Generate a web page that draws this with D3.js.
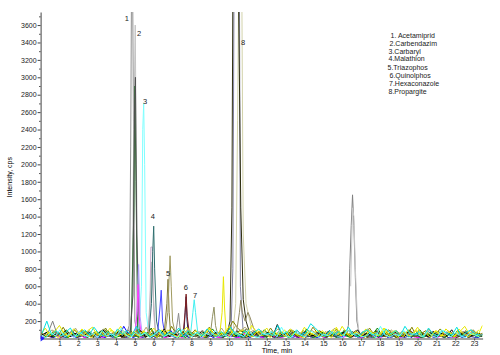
<!DOCTYPE html>
<html>
<head>
<meta charset="utf-8">
<script src="https://cdn.jsdelivr.net/npm/d3@7"></script>
<style>
  body { margin: 0; background: #fff; }
  text { font-family: "Liberation Sans", Arial, sans-serif; }
</style>
</head>
<body>
<svg id="chart" width="500" height="355"></svg>
<script>
// compound names shown in the legend box
const compounds = ["1. Acetamiprid", "2.Carbendazim", "3.Carbaryl", "4.Malathion",
    "5.Triazophos", "6.Quinolphos", "7.Hexaconazole", "8.Propargite"];

// peak numbers written next to peaks (time, cps)
const peakLabels = ["1", "2", "3", "4", "5", "6", "7", "8"];
const peakLabelTime = [4.58, 5.22, 5.54, 5.96, 6.76, 7.71, 8.19, 10.74];
const peakLabelCps = [3650, 3470, 2690, 1370, 720, 560, 465, 3370];

const xTicks = d3.range(1, 24);
const yTicks = d3.range(200, 3601, 200);

// peak traces
const peakColors = [
    "#909090", "#c4c4c4", "#2e7d32", "#505050", "#80ffff", "#b0a0ff", "#ff40ff",
    "#c8a8c8", "#b8b8b8", "#307070", "#4848ff", "#807838", "#a09a60", "#8c8c8c",
    "#202060", "#802020", "#40f0f0", "#909060", "#e8e800",
    "#8080a0", "#d2d2aa", "#303010", "#908860",
    "#808080", "#c8c8c8"
];
const peakTimes = [
    [4.55, 4.7, 4.78, 4.85, 4.93, 5.0, 5.15],
    [4.7, 4.85, 4.95, 5.02, 5.08, 5.2],
    [4.8, 4.95, 5.0, 5.06, 5.15],
    [4.75, 4.9, 4.98, 5.03, 5.1, 5.25],
    [5.2, 5.35, 5.42, 5.47, 5.52, 5.6, 5.75],
    [5.0, 5.12, 5.2, 5.28, 5.4],
    [5.0, 5.1, 5.17, 5.25, 5.35],
    [5.65, 5.8, 5.85, 5.93, 6.0, 6.1],
    [5.7, 5.82, 5.9, 5.98, 6.1],
    [5.75, 5.88, 5.95, 6.0, 6.05, 6.15, 6.3],
    [6.2, 6.33, 6.4, 6.47, 6.6],
    [6.55, 6.7, 6.76, 6.82, 6.9],
    [6.6, 6.75, 6.82, 6.87, 6.93, 7.0, 7.15],
    [7.15, 7.25, 7.32, 7.4, 7.5],
    [7.6, 7.68, 7.72, 7.77, 7.85],
    [7.55, 7.67, 7.72, 7.78, 7.9],
    [7.95, 8.08, 8.15, 8.22, 8.35],
    [9.0, 9.12, 9.2, 9.28, 9.4],
    [9.5, 9.63, 9.7, 9.76, 9.85],
    [10.1, 10.2, 10.27, 10.4, 10.55, 10.6, 10.75],
    [10.2, 10.35, 10.45, 10.55, 10.65, 10.75, 10.9, 11.2],
    [9.9, 10.05, 10.15, 10.22, 10.45, 10.62, 10.75, 10.9, 11.1],
    [10.4, 10.55, 10.62, 10.7, 10.85, 11.0, 11.1, 11.3, 11.5],
    [16.2, 16.33, 16.4, 16.48, 16.55, 16.62, 16.7, 16.78, 16.9],
    [16.45, 16.55, 16.62, 16.7, 16.8, 16.9]
];
const peakValues = [
    [40, 150, 2200, 5200, 2400, 200, 40],
    [40, 400, 2500, 3600, 2000, 60],
    [40, 1500, 2900, 1800, 80],
    [50, 500, 2600, 3000, 1200, 50],
    [50, 600, 2400, 2700, 2000, 300, 40],
    [50, 300, 850, 250, 40],
    [40, 250, 620, 200, 40],
    [40, 300, 1050, 1050, 300, 50],
    [50, 500, 880, 500, 50],
    [60, 400, 1000, 1290, 800, 200, 50],
    [40, 350, 555, 200, 40],
    [40, 400, 680, 300, 40],
    [50, 300, 700, 950, 600, 200, 50],
    [40, 180, 290, 120, 40],
    [40, 350, 480, 200, 40],
    [40, 300, 510, 250, 40],
    [40, 300, 445, 300, 40],
    [40, 250, 360, 150, 40],
    [40, 300, 710, 350, 40],
    [60, 800, 4500, 5500, 4000, 600, 60],
    [60, 400, 2500, 5000, 5000, 1200, 400, 100],
    [60, 200, 1500, 5000, 5000, 1500, 450, 200, 60],
    [80, 300, 440, 300, 200, 300, 250, 120, 60],
    [50, 150, 800, 1300, 1650, 1300, 700, 200, 60],
    [600, 1500, 1400, 800, 250, 50]
];

// baseline noise traces, one value every 0.25 min from each start time
const noiseStep = 0.25;
const noiseColors = ["#0000ff", "#4040c0", "#ff00ff", "#008080", "#00b000", "#008000",
    "#808000", "#606000", "#808080", "#404040", "#000000", "#b0a870",
    "#e6e600", "#f0f000", "#00e0e0", "#60ffff"];
const noiseStart = [0.16, 0.11, 0.04, 0.22, 0.21, 0.12, 0.2, 0.07, 0.14, 0.17, 0.06, 0.1,
    0.0, 0.19, 0.08, 0.03];
const noiseValues = [
    [20,50,10,30,60,20,40,10,30,80,20,50,30,10,40,70,20,140,50,10,
     40,20,60,30,10,50,20,90,30,20,40,10,60,20,30,50,10,40,20,70,
     30,10,50,20,40,40,20,30,60,10,40,20,50,30,10,70,20,40,10,30,
     60,20,50,10,40,30,80,20,10,50,30,20,60,10,40,20,30,70,10,50,
     20,40,10,60,30,20,50,10,40,30,20,60,10,30],
    [10,30,10,50,20,10,40,20,60,10,30,20,10,40,30,10,50,20,10,30,
     70,10,20,40,10,30,20,50,10,20,40,10,30,60,20,10,40,20,10,30,
     20,50,10,30,10,40,20,10,60,30,10,20,40,10,30,20,50,10,20,40,
     10,30,20,10,50,20,40,10,30,20,10,60,20,30,10,40,20,10,50,30,
     10,20,40,10,30,50,10,20,40,10,30,20,10,40],
    [10,30,20,50,10,40,30,20,60,10,20,50,30,10,40,20,70,10,30,20,
     50,10,40,20,30,60,10,20,40,30,10,50,20,40,10,30,70,20,10,40,
     30,20,10,60,20,40,30,10,50,20,30,10,40,60,20,10,30,50,20,40,
     10,30,20,70,10,40,20,30,10,50,30,20,10,40,20,60,10,30,40,20,
     10,50,20,30,10,40,60,20,10,30,50,20,40,30],
    [20,40,70,30,50,20,60,30,40,80,20,50,30,60,20,40,90,30,50,20,
     60,40,30,70,20,50,40,30,80,20,60,30,50,20,70,40,30,60,20,50,
     40,70,30,20,60,40,50,20,80,30,40,60,20,50,30,70,20,40,60,30,
     50,20,80,40,30,60,20,50,40,70,30,20,60,40,50,30,80,20,40,60,
     30,50,20,70,40,30,60,20,50,30,40,70,20,50],
    [10,40,20,60,30,10,50,20,70,10,40,30,90,20,50,10,30,60,20,40,
     10,80,30,20,50,10,60,40,20,30,10,70,20,50,10,40,30,60,10,90,
     20,40,10,50,30,20,70,10,40,60,20,30,10,80,40,20,50,10,30,60,
     20,40,10,70,30,10,50,20,60,30,10,40,80,20,30,10,60,40,20,50,
     10,30,70,20,40,10,50,30,20,60,10,40,20,30],
    [30,80,20,60,40,100,30,50,20,90,40,70,20,110,50,30,80,20,60,40,
     90,30,50,120,20,70,40,60,30,100,20,80,50,30,70,20,110,40,60,30,
     80,20,50,90,30,60,20,100,40,70,30,50,20,90,60,30,110,40,20,80,
     50,30,70,20,100,40,60,30,80,20,50,120,30,60,40,90,20,70,30,50,
     100,20,60,40,80,30,50,20,90,40,60,30,70,40],
    [50,20,90,40,130,30,60,20,100,50,30,80,40,120,20,60,90,30,50,20,
     110,40,70,30,90,60,20,140,50,30,80,40,100,20,60,130,40,70,30,90,
     200,120,80,110,60,50,90,30,120,40,70,20,100,50,30,90,40,130,60,20,
     80,30,110,40,60,20,90,50,30,120,40,70,20,100,60,30,80,40,130,20,
     60,90,30,50,110,40,70,20,80,50,30,100,40,60],
    [60,20,40,80,10,50,30,100,20,60,40,10,70,30,90,20,50,10,40,80,
     30,60,10,110,40,20,70,30,50,10,90,40,20,60,30,10,80,50,20,40,
     130,60,90,70,50,30,80,20,60,40,10,70,30,100,20,50,10,60,40,90,
     20,30,70,10,50,40,80,20,60,10,30,90,40,20,70,10,50,30,100,20,
     40,60,10,80,30,50,20,70,10,40,90,30,60,20],
    [30,60,200,40,40,70,30,50,90,20,60,40,80,30,50,20,70,40,100,30,
     60,20,50,80,30,40,70,20,90,50,30,60,20,80,40,50,30,70,20,60,
     90,40,30,110,50,20,70,40,60,30,80,20,50,40,90,30,60,20,70,50,
     30,80,40,20,60,100,30,50,70,20,40,90,30,60,20,80,50,30,70,40,
     20,60,90,30,50,20,80,40,60,30,70,20,50,40],
    [30,50,10,70,20,40,90,10,30,60,20,50,10,80,40,20,60,10,30,70,
     20,50,40,10,90,30,20,60,10,40,70,20,30,10,50,80,20,40,10,60,
     30,90,20,10,50,40,70,20,30,10,60,40,20,80,10,50,30,20,70,40,
     10,60,20,30,90,10,40,50,20,30,70,10,60,20,40,10,80,30,20,50,
     10,40,70,20,30,10,60,40,20,80,10,30,50,20],
    [40,70,20,50,30,90,20,60,40,30,80,20,50,100,30,40,70,20,60,30,
     50,90,20,40,60,30,110,20,50,40,80,30,60,20,90,40,30,70,20,50,
     60,30,50,40,20,80,50,30,70,20,160,40,60,30,50,20,80,40,30,60,
     20,90,50,30,70,40,20,100,30,60,40,80,20,50,30,70,40,20,90,60,
     30,50,20,80,40,60,30,100,20,50,70,30,40,60],
    [60,30,100,50,20,80,40,120,30,60,90,20,50,110,40,70,30,90,60,20,
     80,40,130,30,60,20,100,50,80,30,60,110,40,20,90,50,70,30,120,40,
     60,150,90,130,70,100,40,80,30,60,110,40,20,90,50,70,30,100,60,20,
     80,40,120,30,50,90,20,70,40,110,60,30,80,20,100,50,40,70,30,90,
     60,20,110,40,70,30,90,50,20,80,40,100,60,30],
    [40,120,30,80,150,50,20,110,60,30,90,130,40,70,20,100,60,140,30,50,
     90,20,80,40,120,60,30,100,50,20,70,130,40,90,30,60,110,20,80,50,
     140,30,70,100,40,20,90,60,120,30,50,80,20,110,60,40,130,30,70,90,
     20,50,100,40,140,60,30,80,20,110,50,70,30,120,40,90,60,20,100,50,
     130,30,70,40,90,20,110,60,30,80,140,50,40,100],
    [20,70,40,10,90,30,60,20,110,50,10,80,30,50,120,20,40,70,10,60,
     30,90,20,50,10,100,40,70,20,30,80,10,60,40,20,120,50,30,70,10,
     90,40,60,20,150,80,30,50,10,70,40,100,20,60,30,10,80,50,20,90,
     40,10,130,30,60,20,70,40,10,90,50,30,120,20,60,10,80,40,30,100,
     20,60,10,90,40,30,70,10,110,50,20,60,30,150],
    [60,200,40,90,30,70,120,20,50,100,40,130,60,30,80,20,110,50,90,30,
     140,40,70,20,60,100,30,80,50,120,20,90,40,70,30,110,60,20,80,40,
     130,50,30,90,20,70,110,40,60,30,150,50,80,20,100,40,70,170,120,60,
     20,90,40,80,30,130,50,20,70,100,40,60,20,110,50,90,30,140,60,40,
     80,20,120,50,30,90,60,40,130,20,70,100,50,40],
    [40,10,70,30,100,20,50,10,80,40,20,60,10,90,30,50,20,120,40,10,
     70,30,60,10,40,90,20,50,30,10,110,40,20,70,10,60,30,90,20,40,
     10,80,50,20,100,30,10,60,40,80,20,130,30,10,70,40,20,90,60,10,
     50,30,80,20,10,100,40,60,20,30,70,10,140,40,20,50,30,90,10,60,
     40,20,80,30,10,100,50,20,70,30,10,60,40,20]
];

const svg = d3.select("#chart");
const x = d3.scaleLinear().domain([0, 23.45]).range([40.6, 482.6]);
const y = d3.scaleLinear().domain([0, 3750]).range([338.5, 12]);

svg.append("clipPath").attr("id", "plotClip")
    .append("rect")
    .attr("x", x(0)).attr("y", y(3750))
    .attr("width", x(23.45) - x(0)).attr("height", y(0) - y(3750));

const plot = svg.append("g").attr("clip-path", "url(#plotClip)");
const line = d3.line().x(d => x(d[0])).y(d => y(d[1]));

peakTimes.forEach((ts, i) => {
    plot.append("path")
        .attr("d", line(ts.map((t, j) => [t, peakValues[i][j]])))
        .attr("fill", "none")
        .attr("stroke", peakColors[i])
        .attr("stroke-width", 1);
});

noiseValues.forEach((vals, i) => {
    plot.append("path")
        .attr("d", line(vals.map((v, j) => [noiseStart[i] + j * noiseStep, v])))
        .attr("fill", "none")
        .attr("stroke", noiseColors[i])
        .attr("stroke-width", 1);
});

// axes
svg.append("g")
    .attr("transform", `translate(${x(0)},0)`)
    .call(d3.axisLeft(y).tickValues(yTicks).tickFormat(d3.format("d"))
        .tickSize(3).tickPadding(1).tickSizeOuter(0));
svg.append("g")
    .attr("transform", `translate(${x(0)},0)`)
    .call(d3.axisLeft(y).tickValues(d3.range(100, 3750, 200)).tickSize(1.5).tickFormat("").tickSizeOuter(0))
    .select(".domain").remove();
svg.append("g")
    .attr("transform", `translate(0,${y(0)})`)
    .call(d3.axisBottom(x).tickValues(xTicks).tickSize(2).tickPadding(1).tickSizeOuter(0));

svg.selectAll(".tick text").attr("font-size", 7).attr("fill", "#222")
    .style("font-family", "'Liberation Sans', Arial, sans-serif");
svg.selectAll(".domain, .tick line").attr("stroke", "#444");

// start marker at origin
svg.append("path")
    .attr("d", `M${x(0)},${y(0) - 3}L${x(0) + 4},${y(0)}L${x(0)},${y(0) + 3}Z`)
    .attr("fill", "#2020ff");

svg.append("text")
    .attr("x", 277).attr("y", 353)
    .attr("text-anchor", "middle")
    .attr("font-size", 7)
    .text("Time, min");

svg.append("text")
    .attr("transform", `translate(12,${(y(0) + y(3750)) / 2 + 2}) rotate(-90)`)
    .attr("text-anchor", "middle")
    .attr("font-size", 7)
    .text("Intensity, cps");

// peak numbers
svg.selectAll(".plabel")
    .data(peakLabels)
    .enter()
    .append("text")
    .attr("class", "plabel")
    .attr("x", (d, i) => x(peakLabelTime[i]))
    .attr("y", (d, i) => y(peakLabelCps[i]))
    .attr("text-anchor", "middle")
    .attr("font-size", 7.5)
    .attr("fill", "#222")
    .text(d => d);

// legend
const legendY = [38, 46, 53.5, 61, 69.5, 77.5, 86, 94];
const legendX = [390.5, 389.5, 388.5, 388.5, 387.5, 389.5, 389, 388.5];
svg.selectAll(".leg")
    .data(compounds)
    .enter()
    .append("text")
    .attr("class", "leg")
    .attr("x", (d, i) => legendX[i])
    .attr("y", (d, i) => legendY[i])
    .attr("font-size", 7)
    .attr("fill", "#222")
    .text(d => d);
</script>
</body>
</html>
